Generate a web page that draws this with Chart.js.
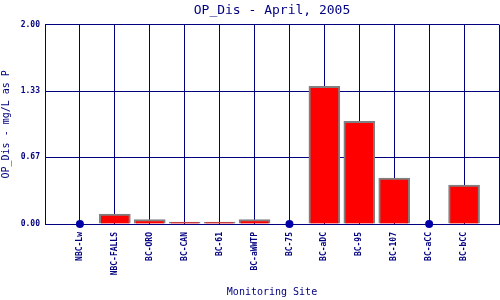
<!DOCTYPE html>
<html lang="en">
<head>
    <meta charset="UTF-8">
    <title>OP_Dis - April, 2005</title>
    <script src="https://cdn.jsdelivr.net/npm/chart.js"></script>
    <style>
        html, body { margin: 0; padding: 0; background: #fff; }
        #wrap { width: 500px; height: 300px; }
    </style>
</head>
<body>
    <div id="wrap"><canvas id="opChart" width="500" height="300"></canvas></div>

    <script>
        // Sites along the x axis (blank slots at both ends)
        var sites = ['NBC-Lw', 'NBC-FALLS', 'BC-ORO', 'BC-CAN', 'BC-61', 'BC-aWWTP',
                     'BC-75', 'BC-aDC', 'BC-95', 'BC-107', 'BC-aCC', 'BC-bCC'];
        // Measured OP_Dis, mg/L as P (null = no bar)
        var opValues = [null, 0.10, 0.045, 0.02, 0.02, 0.045, null, 1.38, 1.03, 0.46, null, 0.39];
        // Sites shown with a dot at zero
        var zeroDots = [0, null, null, null, null, null, 0, null, null, null, 0, null];
        var yTicks = [0, 0.67, 1.33, 2.00];

        var navy = '#000080';
        var labels = [''].concat(sites, ['']);

        var ctx = document.getElementById('opChart').getContext('2d');
        var opChart = new Chart(ctx, {
            type: 'bar',
            data: {
                labels: labels,
                datasets: [{
                    type: 'line',
                    data: [null].concat(zeroDots, [null]),
                    showLine: false,
                    clip: false,
                    pointRadius: 4,
                    pointBackgroundColor: '#0000a8',
                    pointBorderColor: '#0000a8',
                    pointBorderWidth: 0,
                    order: 0
                }, {
                    data: [null].concat(opValues, [null]),
                    backgroundColor: '#ff0000',
                    borderColor: '#808080',
                    borderWidth: 2,
                    barThickness: 31,
                    order: 1
                }]
            },
            options: {
                responsive: false,
                animation: false,
                layout: { autoPadding: false, padding: { left: 0, right: 1, top: 0, bottom: 0 } },
                plugins: {
                    legend: { display: false },
                    tooltip: { enabled: false },
                    title: {
                        display: true,
                        text: 'OP_Dis - April, 2005',
                        color: navy,
                        fullSize: false,
                        font: { family: 'DejaVu Sans Mono', size: 13, weight: 'normal' },
                        padding: { top: 3, bottom: 6 }
                    }
                },
                scales: {
                    x: {
                        offset: false,
                        grid: { offset: false, color: navy, lineWidth: 1, drawTicks: false },
                        border: { color: navy, width: 1 },
                        ticks: {
                            autoSkip: false,
                            maxRotation: 90,
                            minRotation: 90,
                            padding: 8,
                            color: navy,
                            font: { family: 'DejaVu Sans Mono', size: 8, weight: 'bold' }
                        },
                        title: {
                            display: true,
                            text: 'Monitoring Site',
                            color: navy,
                            font: { family: 'DejaVu Sans Mono', size: 10 },
                            padding: { top: 0, bottom: 2 }
                        },
                        afterFit: function (scale) {
                            scale.height = 76;
                            scale.paddingLeft = 0;
                            scale.paddingRight = 0;
                        }
                    },
                    y: {
                        min: 0,
                        max: 2,
                        afterBuildTicks: function (scale) {
                            scale.ticks = yTicks.map(function (v) { return { value: v }; });
                        },
                        grid: { color: navy, lineWidth: 1, drawTicks: false },
                        border: { color: navy, width: 1 },
                        ticks: {
                            padding: 5,
                            color: navy,
                            font: { family: 'DejaVu Sans Mono', size: 8, weight: 'bold' },
                            callback: function (v) { return Number(v).toFixed(2); }
                        },
                        title: {
                            display: true,
                            text: 'OP_Dis - mg/L as P',
                            color: navy,
                            font: { family: 'DejaVu Sans Mono', size: 10 },
                            padding: { top: 0, bottom: 2 }
                        },
                        afterFit: function (scale) {
                            scale.width = 45;
                            scale.paddingTop = 0;
                            scale.paddingBottom = 0;
                        }
                    }
                }
            }
        });
    </script>
</body>
</html>
